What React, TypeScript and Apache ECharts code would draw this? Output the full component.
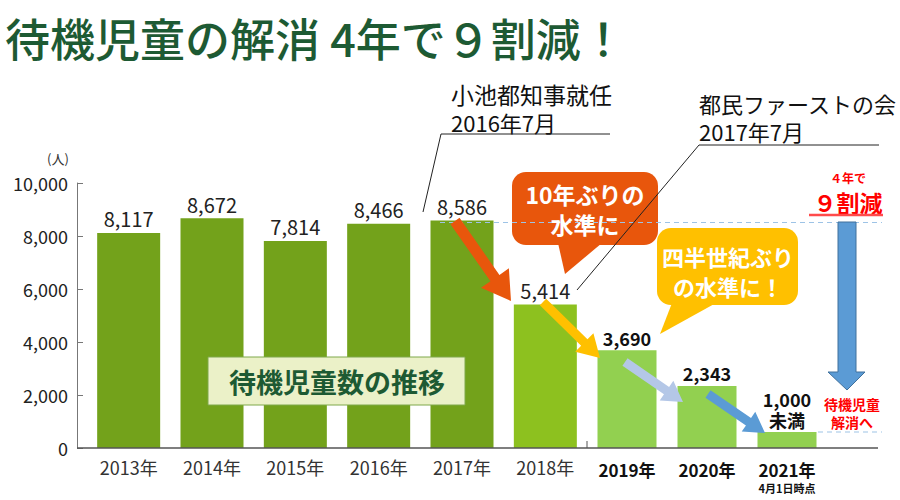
import React, { useEffect, useRef } from "react";
import * as echarts from "echarts";

const FONT = '"Noto Sans CJK JP", "Noto Sans", sans-serif';

const titleText = "待機児童の解消 4年で９割減！";
const yearsPast = ["2013年", "2014年", "2015年", "2016年", "2017年", "2018年"];
const valuesPast = [8117, 8672, 7814, 8466, 8586, 5414];
const colorsPast = ["#73A21B", "#73A21B", "#73A21B", "#73A21B", "#73A21B", "#8DC11F"];
const yearsRecent = ["2019年", "2020年", "2021年"];
const valuesRecent = [3690, 2343, 600];
const labelsRecent = ["3,690", "2,343", "1,000\n未満"];
const noteLast = "4月1日時点";
const yMin = 0;
const yMax = 10000;
const yStep = 2000;

type Pt = [number, number];
function arrowPoints(a: Pt, b: Pt, shaft: number, headLen: number, headW: number): Pt[] {
  const dx = b[0] - a[0];
  const dy = b[1] - a[1];
  const L = Math.sqrt(dx * dx + dy * dy);
  const ux = dx / L;
  const uy = dy / L;
  const px = -uy;
  const py = ux;
  const bx = b[0] - ux * headLen;
  const by = b[1] - uy * headLen;
  const s = shaft / 2;
  const h = headW / 2;
  return [
    [a[0] + px * s, a[1] + py * s],
    [bx + px * s, by + py * s],
    [bx + px * h, by + py * h],
    [b[0], b[1]],
    [bx - px * h, by - py * h],
    [bx - px * s, by - py * s],
    [a[0] - px * s, a[1] - py * s],
  ];
}

export default function App() {
  const ref = useRef<HTMLDivElement>(null);
  useEffect(() => {
    if (!ref.current) return;
    const chart = echarts.init(ref.current, undefined, { renderer: "svg" });
    const fmt = (v: number) => v.toLocaleString("en-US");

    const txt = (x: number, y: number, text: string, style: any) => ({
      type: "text",
      x,
      y,
      z: 100,
      style: { text, fontFamily: FONT, align: "center", verticalAlign: "middle", ...style },
    });
    const line = (x1: number, y1: number, x2: number, y2: number, style: any) => ({
      type: "line",
      z: 100,
      shape: { x1, y1, x2, y2 },
      style,
    });
    const poly = (points: Pt[], style: any) => ({ type: "polygon", z: 100, shape: { points }, style });

    const graphic: any[] = [
      // title
      {
        type: "text",
        x: 5,
        y: 37,
        z: 100,
        style: {
          text: titleText,
          fontFamily: FONT,
          fontSize: 45,
          fontWeight: 500,
          fill: "#1D5A33",
          verticalAlign: "middle",
        },
      },
      // unit
      txt(58, 158, "(人)", { fontSize: 13, fill: "#333" }),
      // baseline
      line(77, 448, 878, 448, { stroke: "#555", lineWidth: 1.5 }),
      line(587, 441, 587, 448, { stroke: "#555", lineWidth: 1 }),
      // dashed reference lines
      line(440, 222.5, 882, 222.5, { stroke: "#9DC3E6", lineWidth: 1.2, lineDash: [5, 4] }),
      line(818, 432, 882, 432, { stroke: "#9DC3E6", lineWidth: 1.2, lineDash: [5, 4] }),
      // annotation 1
      txt(451, 108, "{a|小池都知事就任}\n{b|2016年7月}", {
        align: "left",
        fill: "#111",
        rich: {
          a: { fontSize: 23, lineHeight: 28, fontFamily: FONT, fill: "#111" },
          b: { fontSize: 22, lineHeight: 28, fontFamily: FONT, fill: "#111" },
        },
      }),
      line(441, 134, 610, 134, { stroke: "#222", lineWidth: 1 }),
      line(441, 134, 423, 212, { stroke: "#222", lineWidth: 1 }),
      // annotation 2
      txt(699, 117, "都民ファーストの会\n2017年7月", { fontSize: 22, lineHeight: 28, fill: "#111", align: "left" }),
      line(699, 145, 879, 145, { stroke: "#222", lineWidth: 1 }),
      // orange callout
      { type: "rect", z: 99, shape: { x: 512, y: 172, width: 146, height: 73, r: 14 }, style: { fill: "#E8560C" } },
      poly([[558, 243], [602, 243], [565, 274]], { fill: "#E8560C" }),
      txt(585, 209, "10年ぶりの\n水準に", { fontSize: 23, lineHeight: 30, fontWeight: "bold", fill: "#fff" }),
      line(699, 145, 577, 290, { stroke: "#222", lineWidth: 1 }),
      // yellow callout
      { type: "rect", z: 99, shape: { x: 657, y: 228, width: 141, height: 77, r: 14 }, style: { fill: "#FFC000" } },
      poly([[672, 303], [716, 303], [660, 334]], { fill: "#FFC000" }),
      txt(728, 271, "四半世紀ぶり\nの水準に！", { fontSize: 22, lineHeight: 30, fontWeight: "bold", fill: "#fff" }),
      // step arrows
      poly(arrowPoints([455, 221], [511, 301], 11, 28, 34), { fill: "#E8560C" }),
      poly(arrowPoints([543, 302], [600, 358], 9, 22, 26), { fill: "#FFC000" }),
      poly(arrowPoints([625, 362], [683, 402], 9, 20, 24), { fill: "#B4C7E7" }),
      poly(arrowPoints([708, 394], [765, 433], 9, 20, 24), { fill: "#5B9BD5" }),
      // big blue arrow
      poly(
        [
          [838, 222],
          [856, 222],
          [856, 372],
          [865, 372],
          [847, 390],
          [828, 372],
          [838, 372],
        ],
        { fill: "#5B9BD5", stroke: "#41719C", lineWidth: 1 }
      ),
      txt(848, 191, "{a|４年で}\n{b|９割減}", {
        fill: "#FF0000",
        rich: {
          a: { fontSize: 12, lineHeight: 22, fontWeight: "bold", fontFamily: FONT, fill: "#FF0000", align: "center" },
          b: { fontSize: 23, lineHeight: 28, fontWeight: "bold", fontFamily: FONT, fill: "#FF0000", align: "center" },
        },
      }),
      line(809, 215, 883, 215, { stroke: "#FF4B4B", lineWidth: 2.5 }),
      txt(852, 413, "待機児童\n解消へ", { fontSize: 14, lineHeight: 18, fontWeight: "bold", fill: "#FF0000" }),
      // title box
      {
        type: "rect",
        z: 99,
        shape: { x: 208, y: 357, width: 257, height: 48 },
        style: { fill: "#EBF1C8", stroke: "#7FA84A", lineWidth: 1 },
      },
      txt(337, 381, "待機児童数の推移", { fontSize: 27, fontWeight: "bold", fill: "#1D5A33" }),
    ];

    chart.setOption({
      animation: false,
      textStyle: { fontFamily: FONT },
      grid: [
        { left: 87, top: 183, width: 500, height: 265 },
        { left: 587, top: 183, width: 240, height: 265 },
      ],
      xAxis: [
        {
          type: "category",
          gridIndex: 0,
          data: yearsPast,
          axisLine: { show: false },
          axisTick: { show: false },
          axisLabel: { interval: 0, fontSize: 18, color: "#333", margin: 10, fontFamily: FONT },
        },
        {
          type: "category",
          gridIndex: 1,
          data: yearsRecent,
          axisLine: { show: false },
          axisTick: { show: false },
          axisLabel: {
            interval: 0,
            margin: 10,
            formatter: (v: string, i: number) =>
              i === yearsRecent.length - 1 ? `{a|${v}}\n{b|${noteLast}}` : `{a|${v}}`,
            rich: {
              a: { fontSize: 17, fontWeight: "bold", color: "#111", fontFamily: FONT, lineHeight: 22 },
              b: { fontSize: 11, fontWeight: "bold", color: "#111", fontFamily: FONT, lineHeight: 16 },
            },
          },
        },
      ],
      yAxis: [
        {
          type: "value",
          gridIndex: 0,
          min: yMin,
          max: yMax,
          interval: yStep,
          offset: 10,
          splitLine: { show: false },
          axisLine: { show: true, lineStyle: { color: "#777", width: 1 } },
          axisTick: { show: true, inside: true, length: 6, lineStyle: { color: "#777" } },
          axisLabel: { fontSize: 18, color: "#222", margin: 9, formatter: (v: number) => fmt(v), fontFamily: FONT },
        },
        { type: "value", gridIndex: 1, min: yMin, max: yMax, interval: yStep, show: false, splitLine: { show: false } },
      ],
      series: [
        {
          type: "bar",
          xAxisIndex: 0,
          yAxisIndex: 0,
          barWidth: 63,
          data: valuesPast.map((v, i) => ({ value: v, itemStyle: { color: colorsPast[i] } })),
          label: {
            show: true,
            position: "top",
            distance: 4,
            fontSize: 20,
            color: "#222",
            fontFamily: FONT,
            formatter: (p: any) => fmt(p.value),
          },
        },
        {
          type: "bar",
          xAxisIndex: 1,
          yAxisIndex: 1,
          barWidth: 59,
          data: valuesRecent,
          itemStyle: { color: "#92D050" },
          label: {
            show: true,
            position: "top",
            distance: 2,
            fontSize: 18,
            fontWeight: "bold",
            color: "#111",
            lineHeight: 21,
            fontFamily: FONT,
            formatter: (p: any) => labelsRecent[p.dataIndex],
          },
        },
      ],
      graphic,
    });
    return () => chart.dispose();
  }, []);
  return <div ref={ref} style={{ position: "fixed", left: 0, top: 0, width: 900, height: 500, background: "#fff" }} />;
}
